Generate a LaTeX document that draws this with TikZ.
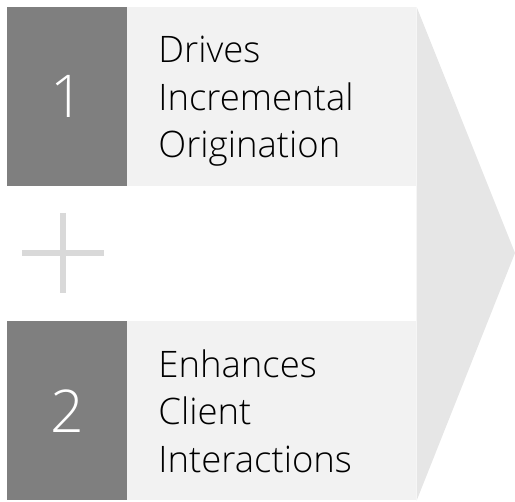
\documentclass[tikz,border=0pt]{standalone}
\usepackage{fontspec}
\setmainfont{Open Sans}
\newfontfamily\lightfont{Open Sans Light}
\usetikzlibrary{positioning}
\definecolor{numgray}{HTML}{7F7F7F}
\definecolor{boxgray}{HTML}{F2F2F2}
\definecolor{chevgray}{HTML}{E6E6E6}
\definecolor{plusgray}{HTML}{D9D9D9}

\begin{document}
\begin{tikzpicture}[x=1pt, y=-1pt,
 numbox/.style={fill=numgray, minimum width=120pt, minimum height=179pt,
  inner sep=0pt, text=white, font=\lightfont\fontsize{59}{59}\selectfont},
 textbox/.style={fill=boxgray, minimum height=179pt, text width=227pt,
  text height=56pt, text depth=123pt,
  inner xsep=31pt, inner ysep=0pt, align=left, text=black,
  font=\lightfont\fontsize{36.5}{47.5}\selectfont},
 plusline/.style={draw=plusgray, line width=6pt}]
\useasboundingbox (0,0) rectangle (515,502);
\node[numbox] (num1) at (67,96.5) {1};
\node[textbox, right=0pt of num1] (txt1) {Drives\\Incremental\\Origination};
\node[numbox] (num2) at (67,411) {2};
\node[textbox, right=0pt of num2] (txt2) {Enhances\\Client\\Interactions};
% chevron on the right
\fill[chevgray] (txt1.north east) -- (515,253) -- (txt2.south east) -- cycle;
% plus sign between the two items
\draw[plusline] (22,253) -- (104,253);
\draw[plusline] (63,213) -- (63,293);
\end{tikzpicture}
\end{document}
